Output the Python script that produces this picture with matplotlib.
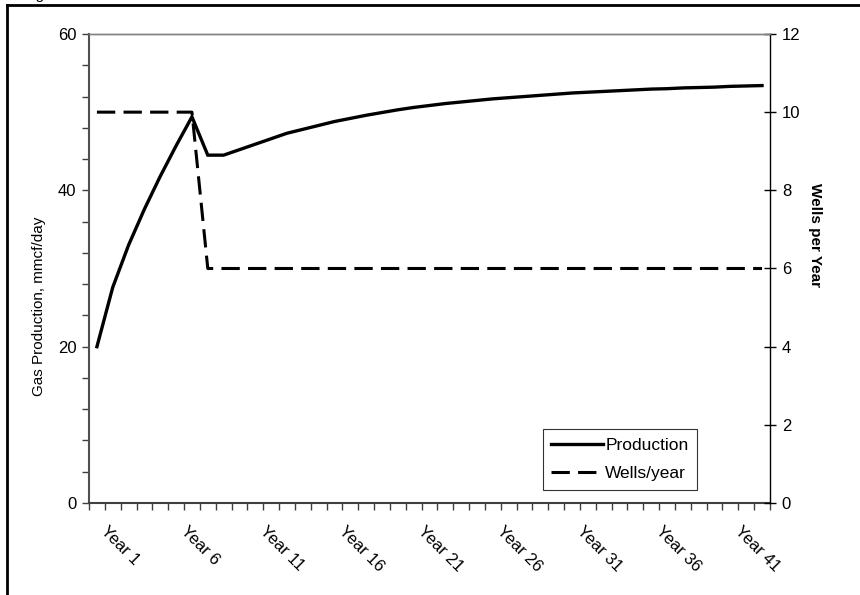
import numpy as np
import matplotlib
matplotlib.use("Agg")
import matplotlib.pyplot as plt
from matplotlib.lines import Line2D
from matplotlib.transforms import ScaledTranslation

plt.rcParams['font.family'] = ['Liberation Sans', 'DejaVu Sans']

# data
years = ["Year %d" % i for i in range(1, 44)]
production = [20.0, 27.6, 33.0, 37.6, 41.8, 45.7, 49.4, 44.5, 44.5, 45.2,
              45.9, 46.6, 47.3, 47.8, 48.3, 48.8, 49.2, 49.6, 49.95, 50.3,
              50.6, 50.85, 51.1, 51.3, 51.5, 51.7, 51.85, 52.0, 52.15, 52.3,
              52.45, 52.55, 52.65, 52.75, 52.85, 52.95, 53.0, 53.1, 53.15, 53.2,
              53.3, 53.35, 53.4]
wells = [10] * 7 + [6] * 36
label_every = 5

fig = plt.figure(figsize=(8.6, 5.95), dpi=100)
ax = fig.add_axes([0.1035, 0.1546, 0.8953 - 0.1035, 0.9429 - 0.1546])
ax2 = ax.twinx()

x = np.arange(len(years))
ax.plot(x, production, color='black', lw=2.4, solid_joinstyle='miter', label='Production', zorder=3)
ax2.plot(x, wells, color='black', lw=2.2, dashes=(6, 2.7), label='Wells/year', zorder=3)

ax.set_xlim(-0.5, len(years) - 0.5)
ax.set_ylim(0, 60)
ax2.set_ylim(0, 12)

# x ticks between categories, labels every 5th category
ax.set_xticks(np.arange(-0.5, len(years), 1.0))
ax.set_xticklabels([])
ax.tick_params(axis='x', which='major', direction='out', length=5, width=1, color='#404040')
ax.set_xticks(x[::label_every], minor=True)
ax.set_xticklabels(years[::label_every], minor=True, rotation=-45, ha='left', va='top',
                   rotation_mode='anchor', fontsize=12)
ax.tick_params(axis='x', which='minor', length=0, pad=15)
for lab in ax.get_xticklabels(minor=True):
    lab.set_transform(lab.get_transform() + ScaledTranslation(12 / 100, 0, fig.dpi_scale_trans))

ax.set_yticks([0, 20, 40, 60])
ax.set_yticks(np.arange(0, 61, 4), minor=True)
ax.tick_params(axis='y', which='both', direction='out', length=5, width=1, color='#404040',
               labelsize=12, pad=4)
ax.set_ylabel('Gas Production, mmcf/day', fontsize=11)
ax.yaxis.set_label_coords(-0.063, 0.42)

ax2.set_yticks(np.arange(0, 13, 2))
ax2.tick_params(axis='y', direction='inout', length=9, width=1, color='black',
                labelsize=12, pad=4)
ax2.set_ylabel('Wells per Year', fontsize=11, fontweight='bold', rotation=270, va='bottom')
ax2.yaxis.set_label_coords(1.056, 0.572)

for a in (ax, ax2):
    a.spines['top'].set_color('#808080')
    a.spines['top'].set_linewidth(1)
ax.spines['left'].set_color('#505050')
ax.spines['left'].set_linewidth(1.5)
ax.spines['bottom'].set_color('#404040')
ax.spines['bottom'].set_linewidth(1.5)
ax.spines['right'].set_visible(False)
ax2.spines['left'].set_visible(False)
ax2.spines['bottom'].set_visible(False)
ax2.spines['right'].set_color('black')
ax2.spines['right'].set_linewidth(1)

handles = [Line2D([], [], color='black', lw=2.4),
           Line2D([], [], color='black', lw=2.2, dashes=(6, 2.7))]
leg = ax2.legend(handles, ['Production', 'Wells/year'], loc='lower right',
                 bbox_to_anchor=(0.893, 0.028), fontsize=12.5, frameon=True, fancybox=False,
                 edgecolor='black', handlelength=3.0, handletextpad=0.1, borderpad=0.5,
                 labelspacing=0.75, borderaxespad=0, handleheight=0.7)
leg.get_frame().set_linewidth(0.8)

# outer frame of the figure (top and left edges visible)
fig.add_artist(Line2D([7 / 860, 7 / 860], [0, 1 - 5 / 595], transform=fig.transFigure,
                      color='black', lw=2))
fig.add_artist(Line2D([7 / 860, 1], [1 - 5 / 595, 1 - 5 / 595], transform=fig.transFigure,
                      color='black', lw=2))
# caption above, cut off by the crop
fig.text(24 / 860, 1 + 1 / 595, 'Figure', fontsize=11, va='baseline', ha='left')

fig.savefig('out.png', dpi=100, facecolor='white')
